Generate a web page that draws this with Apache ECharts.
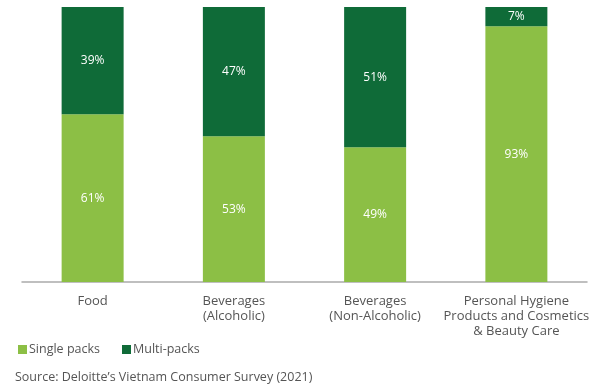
<!DOCTYPE html>
<html>
<head>
<meta charset="utf-8">
<script src="https://cdn.jsdelivr.net/npm/echarts@6/dist/echarts.min.js"></script>
<style>
html, body { margin: 0; padding: 0; background: #fff; }
#chart { width: 600px; height: 390px; }
</style>
</head>
<body>
<div id="chart"></div>
<script>
var categories = ['Food', 'Beverages\n(Alcoholic)', 'Beverages\n(Non-Alcoholic)', 'Personal Hygiene\nProducts and Cosmetics\n& Beauty Care'];
var singlePacks = [61, 53, 49, 93];
var multiPacks = [39, 47, 51, 7];

var font = '"Open Sans", "Noto Sans", sans-serif';

echarts.init(document.getElementById('chart')).setOption({
    animation: false,
    textStyle: { fontFamily: font },
    grid: { left: 22, right: 13, top: 7, bottom: 108 },
    legend: {
        left: 13,
        top: 338,
        itemWidth: 9,
        itemHeight: 9,
        itemGap: 22,
        icon: 'rect',
        textStyle: { fontFamily: font, fontSize: 12.5, color: '#555', padding: [0, 0, 0, -3] },
        data: ['Single packs', 'Multi-packs']
    },
    xAxis: {
        type: 'category',
        data: categories,
        axisLine: { lineStyle: { color: '#aaa', width: 1.5 } },
        axisTick: { show: false },
        axisLabel: { interval: 0, fontFamily: font, fontSize: 13, color: '#555', margin: 12, lineHeight: 15 }
    },
    yAxis: {
        type: 'value',
        min: 0,
        max: 100,
        show: false
    },
    series: [
    {
        name: 'Single packs',
        type: 'bar',
        stack: 'total',
        barWidth: 62,
        itemStyle: { color: '#8cbf45' },
        label: { show: true, position: 'inside', formatter: '{c}%', color: '#fff', fontFamily: font, fontSize: 12 },
        data: singlePacks
    },
    {
        name: 'Multi-packs',
        type: 'bar',
        stack: 'total',
        barWidth: 62,
        itemStyle: { color: '#0f6b38' },
        label: { show: true, position: 'inside', formatter: '{c}%', color: '#fff', fontFamily: font, fontSize: 12 },
        data: multiPacks
    }],
    graphic: [{
        type: 'text',
        left: 15,
        top: 371,
        style: { text: 'Source: Deloitte\u2019s Vietnam Consumer Survey (2021)', fontFamily: font, fontSize: 12.5, fill: '#555' }
    }]
});
</script>
</body>
</html>
